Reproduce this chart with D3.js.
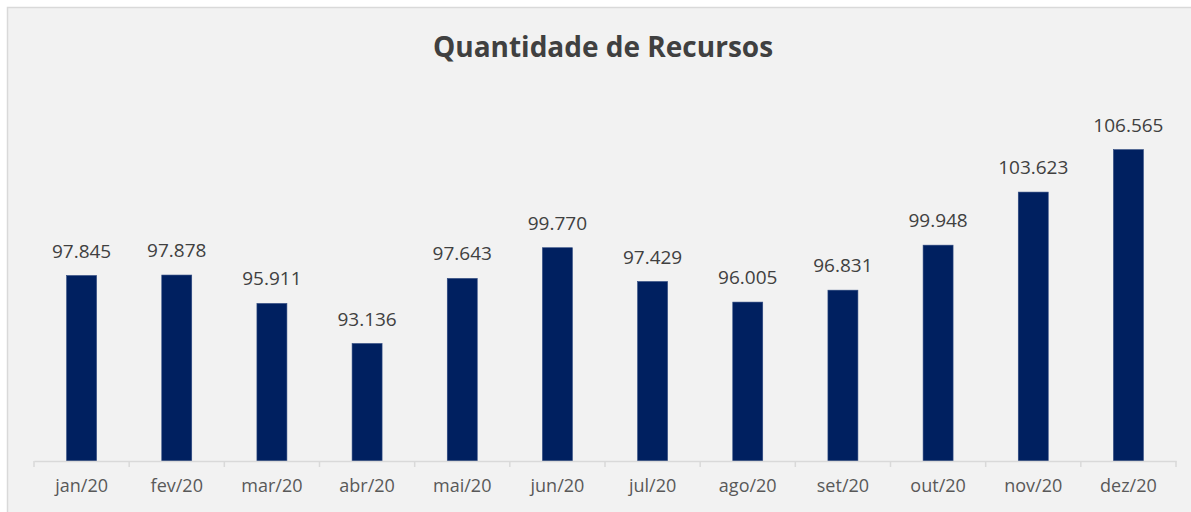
<!DOCTYPE html>
<html>
<head>
<meta charset="utf-8">
<script src="https://cdn.jsdelivr.net/npm/d3@7"></script>
<style>
  body { margin: 0; background: #fff; }
  svg { display: block; }
</style>
</head>
<body>
<svg id="chart" width="1191" height="512"></svg>
<script>
// data
const months = ["jan/20", "fev/20", "mar/20", "abr/20", "mai/20", "jun/20",
                "jul/20", "ago/20", "set/20", "out/20", "nov/20", "dez/20"];
const recursos = [97.845, 97.878, 95.911, 93.136, 97.643, 99.770,
                  97.429, 96.005, 96.831, 99.948, 103.623, 106.565];
const yDomain = [85, 110];
const title = "Quantidade de Recursos";

const svg = d3.select("#chart");
const W = 1191, H = 512;
const plot = {left: 34, right: 1176, top: 100, bottom: 461};

// chart area background + border
svg.append("rect")
    .attr("x", 7.5).attr("y", 7.5)
    .attr("width", W + 10).attr("height", H + 10)
    .attr("fill", "#f2f2f2")
    .attr("stroke", "#d9d9d9")
    .attr("stroke-width", 1.5);

svg.append("text")
    .attr("x", 603).attr("y", 57)
    .attr("text-anchor", "middle")
    .attr("font-family", "'Open Sans', sans-serif")
    .attr("font-weight", 700)
    .attr("font-size", 28)
    .attr("fill", "#404040")
    .text(title);

let x = d3.scaleBand()
    .domain(months)
    .range([plot.left, plot.right])
    .paddingInner(0.685)
    .paddingOuter(0.3425);

let xCat = d3.scaleBand()
    .domain(months)
    .range([plot.left, plot.right])
    .padding(0);

let y = d3.scaleLinear()
    .domain(yDomain)
    .range([plot.bottom, plot.top]);

// bars
svg.append("g").selectAll("rect")
    .data(recursos)
    .join("rect")
    .attr("x", (d, i) => x(months[i]))
    .attr("y", d => y(d))
    .attr("width", x.bandwidth())
    .attr("height", d => y(yDomain[0]) - y(d))
    .attr("fill", "#002060")
    .attr("stroke", "#2f4a80")
    .attr("stroke-width", 0.6);

// value labels
const fmt = d => d.toFixed(3);
svg.append("g").selectAll("text")
    .data(recursos)
    .join("text")
    .attr("x", (d, i) => x(months[i]) + x.bandwidth() / 2)
    .attr("y", d => y(d) - 18)
    .attr("text-anchor", "middle")
    .attr("font-family", "'Open Sans', sans-serif")
    .attr("font-size", 19)
    .attr("fill", "#404040")
    .text(fmt);

// x axis
let axis = d3.axisBottom(xCat).tickSize(0).tickPadding(18);
let gx = svg.append("g")
    .attr("transform", `translate(0,${plot.bottom})`)
    .call(axis);
gx.select(".domain").attr("stroke", "#d9d9d9").attr("stroke-width", 1.5);
gx.selectAll("text")
    .attr("font-family", "'Open Sans', sans-serif")
    .attr("font-size", 18)
    .attr("fill", "#595959");

// category boundary ticks
let bounds = months.map(m => xCat(m)).concat([plot.right]);
gx.selectAll("line.bound")
    .data(bounds)
    .join("line")
    .attr("class", "bound")
    .attr("x1", d => d).attr("x2", d => d)
    .attr("y1", 0).attr("y2", 6)
    .attr("stroke", "#d9d9d9")
    .attr("stroke-width", 1.5);
</script>
</body>
</html>
